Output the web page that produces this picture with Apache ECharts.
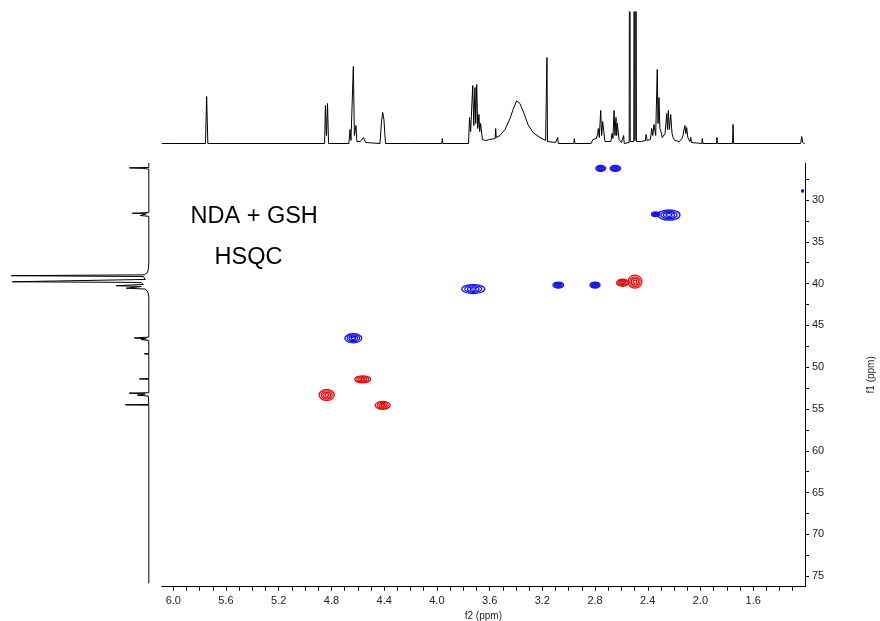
<!DOCTYPE html>
<html>
<head>
<meta charset="utf-8">
<script src="https://cdn.jsdelivr.net/npm/echarts@6/dist/echarts.min.js"></script>
<style>
html,body{margin:0;padding:0;background:#fff;}
#chart{width:880px;height:621px;}
</style>
</head>
<body>
<div id="chart"></div>
<script>
// ---- Axis ranges (ppm) ----
const f2Range = [1.207, 6.088];
const f1Range = [25.57, 76.26];

// ---- Tick values ----
const f2TickLabels = [6.0, 5.6, 5.2, 4.8, 4.4, 4.0, 3.6, 3.2, 2.8, 2.4, 2.0, 1.6];
const f2MinorTicks = [6.0,5.9,5.8,5.7,5.6,5.5,5.4,5.3,5.2,5.1,5.0,4.9,4.8,4.7,4.6,4.5,4.4,4.3,4.2,4.1,4.0,3.9,3.8,3.7,3.6,3.5,3.4,3.3,3.2,3.1,3.0,2.9,2.8,2.7,2.6,2.5,2.4,2.3,2.2,2.1,2.0,1.9,1.8,1.7,1.6,1.5,1.4,1.3];
const f1TickLabels = [30, 35, 40, 45, 50, 55, 60, 65, 70, 75];
const f1MinorTicks = [27.5,30,32.5,35,37.5,40,42.5,45,47.5,50,52.5,55,57.5,60,62.5,65,67.5,70,72.5,75];

// ---- HSQC cross peaks ----
const peakF2 = [2.757, 2.646, 2.239, 2.340, 3.724, 3.079, 2.800, 2.497, 2.590, 4.634, 4.563, 4.836, 4.411, 1.225];
const peakF1 = [26.21, 26.21, 31.79, 31.70, 40.65, 40.17, 40.17, 39.77, 39.90, 46.54, 51.45, 53.33, 54.56, 28.92];
const peakWidthF2 = [0.076, 0.081, 0.167, 0.062, 0.175, 0.081, 0.076, 0.106, 0.095, 0.129, 0.121, 0.114, 0.114, 0.015];
const peakWidthF1 = [0.72, 0.72, 1.2, 0.55, 1.08, 0.72, 0.72, 1.55, 0.85, 1.08, 0.84, 1.32, 0.96, 0.24];
const peakPhase = [1, 1, 1, 1, 1, 1, 1, -1, -1, 1, -1, -1, -1, 1];

// ---- 1H projection (ppm, intensity) ----
const h1Spectrum = [
[6.088,0],[6.015,0],[6.010,1.5],[6.005,0],
[5.756,0],[5.747,47],[5.738,0],
[5.675,0],[5.671,1.5],[5.666,0],
[4.852,0],[4.846,38],[4.838,8],[4.830,40],[4.822,0],
[4.668,0],[4.659,14],[4.652,3],[4.641,5],[4.634,77],[4.626,8],[4.614,18],[4.607,2],[4.580,2],[4.558,6],[4.540,1],
[4.432,0],[4.420,22],[4.411,31],[4.402,24],[4.390,0],
[4.200,0],[4.196,2],[4.192,0],
[3.963,0],[3.959,5],[3.955,0],
[3.760,0],[3.752,26],[3.744,12],[3.728,58],[3.720,18],[3.711,56],[3.705,20],[3.698,59],[3.690,15],[3.681,29],[3.675,12],[3.668,20],[3.655,4],[3.630,3],
[3.600,4],[3.558,5],[3.554,15],[3.550,6],
[3.521,8],[3.483,14],[3.445,25],[3.422,34],[3.395,42.7],[3.370,40],[3.339,30],[3.309,19],[3.271,11],[3.218,6],[3.175,3],
[3.169,3],[3.165,86],[3.161,2],
[3.100,1],[3.087,0],[3.083,6],[3.079,0],
[2.961,0],[2.957,5],[2.953,0],
[2.830,0],[2.816,4],[2.790,5],[2.780,10],[2.775,15],[2.768,6],[2.757,33],[2.750,8],[2.742,22],[2.732,10],[2.725,2],
[2.680,2],[2.671,10],[2.664,5],[2.656,33],[2.649,8],[2.641,26],[2.636,8],[2.631,20],[2.618,4],[2.600,1],
[2.587,0],[2.583,8],[2.579,0],
[2.541,1],[2.537,400],[2.533,2],[2.506,2],[2.502,400],[2.497,3],[2.491,400],[2.486,2],
[2.450,2],[2.418,3],[2.413,9],[2.405,3],[2.380,4],[2.370,15],[2.362,8],[2.353,19],[2.340,8],[2.328,74],[2.322,20],[2.315,46],[2.308,15],[2.300,12],[2.290,6],
[2.275,8],[2.269,10],[2.262,8],[2.256,30],[2.250,14],[2.244,33],[2.236,14],[2.226,29],[2.216,10],[2.208,6],[2.195,3],
[2.160,2],[2.140,5],[2.133,8],[2.125,10],[2.118,18],[2.111,10],[2.105,16],[2.096,6],[2.087,4],[2.080,2],[2.074,6],[2.068,1],
[1.990,0],[1.986,5],[1.982,0],
[1.879,0],[1.875,6],[1.871,0],
[1.757,0],[1.753,19],[1.749,0],
[1.240,0],[1.232,7],[1.224,1],[1.210,0]
];

// ---- 13C projection (ppm, intensity) ----
const c13Projection = [
[25.57,0.5],[26.10,0.5],[26.15,20],[26.22,6],[26.30,0.5],
[31.50,0.5],[31.58,17],[31.65,3],[31.85,9],[31.95,0.5],
[37.50,0.5],[38.30,1],[38.70,2],[38.95,5],[39.05,138],[39.15,6],[39.50,4],[39.70,6],[39.78,137],[39.86,8],[40.10,6],[40.25,33],[40.35,8],[40.55,23],[40.65,4],[41.00,1.5],[41.50,0.5],
[46.40,0.5],[46.50,15],[46.60,3],[46.70,8],[46.80,0.5],
[48.35,0.5],[48.40,5],[48.45,0.5],
[51.35,0.5],[51.40,10],[51.45,0.5],
[53.05,0.5],[53.10,20],[53.20,4],[53.35,12],[53.45,1],
[54.45,0.5],[54.50,24],[54.55,0.5],
[75.85,0.5]
];

const titleLines = ['NDA + GSH', 'HSQC'];

const FONT = 'Liberation Sans, Arial, Helvetica, sans-serif';
const chart = echarts.init(document.getElementById('chart'), null, {renderer: 'canvas'});

const peakData = peakF2.map((x, i) => [x, peakF1[i], peakWidthF2[i], peakWidthF1[i], peakPhase[i]]);

function renderContour(params, api) {
  const c = api.coord([api.value(0), api.value(1)]);
  const s = api.size([api.value(2), api.value(3)]);
  const color = api.value(4) > 0 ? '#1414e6' : '#e01010';
  const levels = [1, 0.74, 0.5, 0.26];
  return {
    type: 'group',
    children: levels.map(k => ({
      type: 'ellipse',
      shape: {cx: c[0], cy: c[1], rx: Math.abs(s[0]) / 2 * k, ry: Math.abs(s[1]) / 2 * k},
      style: {fill: null, stroke: color, lineWidth: 1.3}
    }))
  };
}

const hiddenAxis = {show: false, axisLine: {show: false}, axisTick: {show: false}, axisLabel: {show: false}, splitLine: {show: false}};

chart.setOption({
  animation: false,
  backgroundColor: '#fff',
  textStyle: {fontFamily: FONT},
  grid: [
    {left: 161.7, top: 163, width: 643.3, height: 423.7, outerBoundsMode: 'none', containLabel: false},
    {left: 161.7, top: 12, width: 643.3, height: 131.5, outerBoundsMode: 'none', containLabel: false},
    {left: 10, top: 163, width: 139.3, height: 423.7, outerBoundsMode: 'none', containLabel: false}
  ],
  xAxis: [
    {
      gridIndex: 0, type: 'value', min: f2Range[0], max: f2Range[1], inverse: true, position: 'bottom',
      axisLine: {show: true, onZero: false, lineStyle: {color: '#000', width: 1}},
      axisTick: {show: true, customValues: f2MinorTicks, length: 4, lineStyle: {color: '#000'}},
      axisLabel: {show: true, customValues: f2TickLabels, formatter: v => Number(v).toFixed(1), color: '#222', fontSize: 11, margin: 9, fontFamily: FONT},
      splitLine: {show: false},
      name: 'f2 (ppm)', nameLocation: 'middle', nameGap: 19,
      nameTextStyle: {color: '#222', fontSize: 10, fontFamily: FONT}
    },
    Object.assign({gridIndex: 1, type: 'value', min: f2Range[0], max: f2Range[1], inverse: true}, hiddenAxis),
    Object.assign({gridIndex: 2, type: 'value', min: 0, max: 139.3, inverse: true}, hiddenAxis)
  ],
  yAxis: [
    {
      gridIndex: 0, type: 'value', min: f1Range[0], max: f1Range[1], inverse: true, position: 'right',
      axisLine: {show: true, onZero: false, lineStyle: {color: '#000', width: 1}},
      axisTick: {show: true, customValues: f1MinorTicks, length: 4, lineStyle: {color: '#000'}},
      axisLabel: {show: true, customValues: f1TickLabels, color: '#222', fontSize: 11, margin: 7, fontFamily: FONT},
      splitLine: {show: false},
      name: 'f1 (ppm)', nameLocation: 'middle', nameRotate: 90, nameGap: 61,
      nameTextStyle: {color: '#222', fontSize: 10, fontFamily: FONT}
    },
    Object.assign({gridIndex: 1, type: 'value', min: 0, max: 131.5}, hiddenAxis),
    Object.assign({gridIndex: 2, type: 'value', min: f1Range[0], max: f1Range[1], inverse: true}, hiddenAxis)
  ],
  graphic: [
    {type: 'text', left: 190.5, top: 205, style: {text: titleLines[0], font: '23.5px ' + FONT, fill: '#000'}},
    {type: 'text', left: 214.5, top: 246, style: {text: titleLines[1], font: '23.5px ' + FONT, fill: '#000'}}
  ],
  series: [
    {
      type: 'line', xAxisIndex: 1, yAxisIndex: 1, data: h1Spectrum,
      showSymbol: false, symbol: 'none', clip: true, silent: true,
      lineStyle: {color: '#000', width: 1}
    },
    {
      type: 'line', xAxisIndex: 2, yAxisIndex: 2, data: c13Projection.map(p => [p[1], p[0]]),
      showSymbol: false, symbol: 'none', clip: true, silent: true,
      lineStyle: {color: '#000', width: 1}
    },
    {
      type: 'custom', xAxisIndex: 0, yAxisIndex: 0, data: peakData,
      encode: {x: 0, y: 1}, clip: true, silent: true,
      renderItem: renderContour
    }
  ]
});
</script>
</body>
</html>
